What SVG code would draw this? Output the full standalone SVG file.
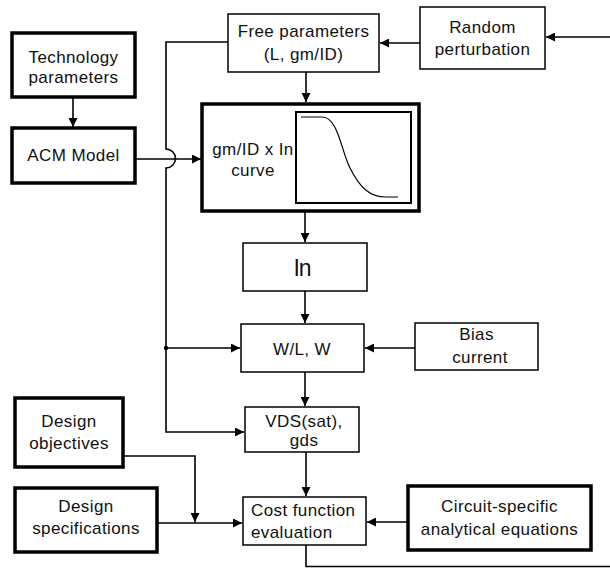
<svg xmlns="http://www.w3.org/2000/svg" width="610" height="568" viewBox="0 0 610 568">
  <style>
    .bg { fill: #ffffff; }
    .thin { fill: #ffffff; stroke: #000000; stroke-width: 1.5; }
    .thick { fill: #ffffff; stroke: #000000; stroke-width: 3.5; }
    .wire { fill: none; stroke: #000000; stroke-width: 1.6; }
    text { font-family: "Liberation Sans", Arial, sans-serif; font-size: 17px; fill: #111111; letter-spacing: 0.4px; }
    .c { text-anchor: middle; }
  </style>
  <defs>
    <marker id="arrow" viewBox="0 0 10 10" refX="10" refY="5" markerWidth="9" markerHeight="9" markerUnits="userSpaceOnUse" orient="auto">
      <path d="M0,0 L10,5 L0,10 z" fill="#000000"/>
    </marker>
  </defs>
  <rect class="bg" x="0" y="0" width="610" height="568"/>

  <!-- connectors -->
  <g id="connectors">
    <!-- external feedback into random perturbation -->
    <line class="wire" x1="612" y1="37" x2="546" y2="37" marker-end="url(#arrow)"/>
    <line class="wire" x1="420" y1="43" x2="380" y2="43" marker-end="url(#arrow)"/>
    <line class="wire" x1="73" y1="97" x2="73" y2="127" marker-end="url(#arrow)"/>
    <line class="wire" x1="306" y1="72" x2="306" y2="102" marker-end="url(#arrow)"/>
    <!-- ACM model into curve block -->
    <line class="wire" x1="135" y1="159" x2="201" y2="159" marker-end="url(#arrow)"/>
    <!-- free parameters bus with hop over the ACM line -->
    <path class="wire" d="M228,42 H166 V149 A9,9 0 0 1 166,168 V432 H244" marker-end="url(#arrow)"/>
    <line class="wire" x1="166" y1="348" x2="240" y2="348" marker-end="url(#arrow)"/>
    <circle cx="166" cy="348" r="2.2" fill="#000000"/>
    <line class="wire" x1="305" y1="212" x2="305" y2="242" marker-end="url(#arrow)"/>
    <line class="wire" x1="305" y1="291" x2="305" y2="323" marker-end="url(#arrow)"/>
    <line class="wire" x1="415" y1="348" x2="365" y2="348" marker-end="url(#arrow)"/>
    <line class="wire" x1="305" y1="372" x2="305" y2="406" marker-end="url(#arrow)"/>
    <line class="wire" x1="306" y1="452" x2="306" y2="496" marker-end="url(#arrow)"/>
    <path class="wire" d="M123,456 H195 V522" marker-end="url(#arrow)"/>
    <line class="wire" x1="157" y1="523" x2="242" y2="523" marker-end="url(#arrow)"/>
    <line class="wire" x1="408" y1="522" x2="367" y2="522" marker-end="url(#arrow)"/>
    <path class="wire" d="M306,545 V566.5 H612"/>
  </g>

  <g id="technology">
    <rect class="thick" x="12" y="33" width="123" height="64"/>
    <text class="c" x="73.5" y="63">Technology</text>
    <text class="c" x="73.5" y="83">parameters</text>
  </g>

  <g id="acm-model">
    <rect class="thick" x="12" y="128" width="123" height="55"/>
    <text class="c" x="73.5" y="161">ACM Model</text>
  </g>

  <g id="free-parameters">
    <rect class="thin" x="228" y="14" width="151" height="58"/>
    <text class="c" x="303.5" y="37">Free parameters</text>
    <text class="c" x="303.5" y="60">(L, gm/ID)</text>
  </g>

  <g id="random-perturbation">
    <rect class="thin" x="420" y="7" width="125" height="62"/>
    <text class="c" x="482.5" y="33">Random</text>
    <text class="c" x="482.5" y="55">perturbation</text>
  </g>

  <g id="curve-block">
    <rect class="thick" x="202" y="104" width="217" height="107"/>
    <rect x="296" y="112" width="115" height="91" fill="#ffffff" stroke="#000000" stroke-width="2"/>
    <path d="M301,117 H322 C338,117 341,150 350,168 C360,188 370,197 386,197 H398" fill="none" stroke="#000000" stroke-width="1.2"/>
    <text class="c" x="253" y="155">gm/ID x In</text>
    <text class="c" x="253" y="176">curve</text>
  </g>

  <g id="in">
    <rect class="thin" x="243" y="243" width="124" height="48"/>
    <text class="c" x="302" y="276" style="font-size:23px; letter-spacing:-1px">In</text>
  </g>

  <g id="wl">
    <rect class="thin" x="241" y="324" width="123" height="48"/>
    <text class="c" x="302" y="355">W/L, W</text>
  </g>

  <g id="bias-current">
    <rect class="thin" x="415" y="323" width="123" height="47"/>
    <text class="c" x="476.5" y="340">Bias</text>
    <text class="c" x="480" y="363">current</text>
  </g>

  <g id="vds">
    <rect class="thin" x="245" y="407" width="114" height="45"/>
    <text class="c" x="304" y="427">VDS(sat),</text>
    <text class="c" x="304" y="446">gds</text>
  </g>

  <g id="cost-function">
    <rect class="thin" x="243" y="497" width="123" height="48"/>
    <text x="251" y="516">Cost function</text>
    <text x="251" y="538">evaluation</text>
  </g>

  <g id="design-objectives">
    <rect class="thick" x="15" y="398" width="108" height="69"/>
    <text class="c" x="69" y="427">Design</text>
    <text class="c" x="69" y="449">objectives</text>
  </g>

  <g id="design-specifications">
    <rect class="thick" x="15" y="488" width="142" height="64"/>
    <text class="c" x="86" y="512">Design</text>
    <text class="c" x="86" y="534">specifications</text>
  </g>

  <g id="circuit-equations">
    <rect class="thick" x="408" y="486" width="183" height="64"/>
    <text class="c" x="499.5" y="512">Circuit-specific</text>
    <text class="c" x="499.5" y="535">analytical equations</text>
  </g>
</svg>
